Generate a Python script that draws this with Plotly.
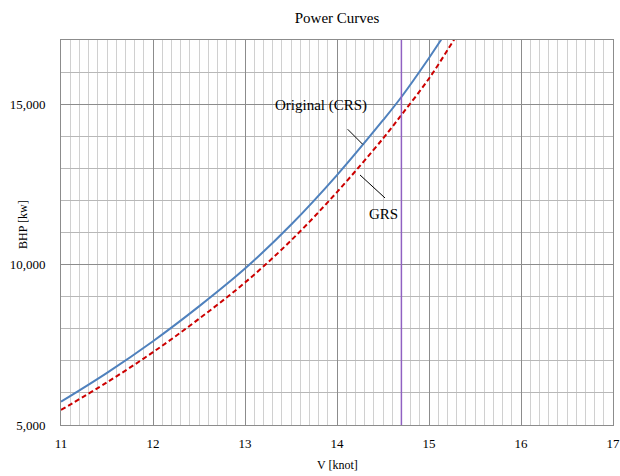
import plotly.graph_objects as go

# Speed [knot]
v_orig = [11.0, 11.5, 12.0, 12.5, 13.0, 13.5, 14.0, 14.5, 14.7, 15.0, 15.13, 15.3]
bhp_orig = [5726, 6625, 7611, 8697, 9876, 11241, 12789, 14500, 15224, 16439, 17000, 17757]

v_grs = [11.0, 11.5, 12.0, 12.5, 13.0, 13.5, 14.0, 14.5, 14.7, 15.0, 15.27, 15.4]
bhp_grs = [5468, 6330, 7270, 8310, 9440, 10750, 12260, 13930, 14663, 15800, 17000, 17600]

design_speed = 14.7
x_ticks = [11, 12, 13, 14, 15, 16, 17]
y_ticks = [5000, 10000, 15000]

FONT = "Liberation Serif, Times New Roman, serif"

fig = go.Figure()
fig.add_trace(go.Scatter(x=v_orig, y=bhp_orig, mode="lines", line_shape="spline",
                         line=dict(color="#4F81BD", width=2), name="Original (CRS)"))
fig.add_trace(go.Scatter(x=v_grs, y=bhp_grs, mode="lines", line_shape="spline",
                         line=dict(color="#CC0000", width=2, dash="5px,3px"), name="GRS"))

fig.add_vline(x=design_speed, line=dict(color="#9061C2", width=1.5))

# labels with leader lines
fig.add_annotation(x=13.826, y=14944, text="Original (CRS)", showarrow=False,
                   font=dict(family=FONT, size=15, color="black"))
fig.add_shape(type="line", x0=14.116, y0=14218, x1=14.279, y1=13750,
              line=dict(color="black", width=1))
fig.add_annotation(x=14.5, y=11577, text="GRS", showarrow=False,
                   font=dict(family=FONT, size=15, color="black"))
fig.add_shape(type="line", x0=14.25, y0=12793, x1=14.522, y1=12076,
              line=dict(color="black", width=1))

# axis titles
fig.add_annotation(xref="paper", yref="paper", x=-0.085, y=0.52, text="BHP [kw]",
                   textangle=-90, showarrow=False, font=dict(family=FONT, size=12, color="black"))
fig.add_annotation(xref="paper", yref="paper", x=0.5, y=-0.105, yanchor="middle",
                   text="V [knot]", showarrow=False, font=dict(family=FONT, size=12, color="black"))

fig.update_layout(
    width=620, height=476,
    margin=dict(l=61, r=7, t=40, b=51, autoexpand=False),
    paper_bgcolor="white", plot_bgcolor="white",
    showlegend=False,
    font=dict(family=FONT, size=13, color="black"),
    title=dict(text="Power Curves", x=0.5, xref="paper", xanchor="center",
               y=1 - 18 / 476, yref="container", yanchor="middle",
               font=dict(family=FONT, size=15, color="black")),
)
fig.update_xaxes(range=[11, 17], tickvals=x_ticks, showgrid=True, gridcolor="#8C8C8C",
                 gridwidth=1, zeroline=False, showline=True, linecolor="#8C8C8C", mirror=True,
                 ticks="", ticklabelstandoff=6, automargin=False,
                 minor=dict(dtick=0.1, showgrid=True, gridcolor="#D0D0D0", gridwidth=1, ticks=""))
fig.update_yaxes(range=[5000, 17000], tickvals=y_ticks, tickformat=",d", showgrid=True,
                 gridcolor="#8C8C8C", gridwidth=1, zeroline=False, showline=True,
                 linecolor="#8C8C8C", mirror=True, ticks="", ticklabelstandoff=12,
                 automargin=False,
                 minor=dict(dtick=1000, showgrid=True, gridcolor="#B8B8B8", gridwidth=1, ticks=""))

fig.write_html("out.html")
